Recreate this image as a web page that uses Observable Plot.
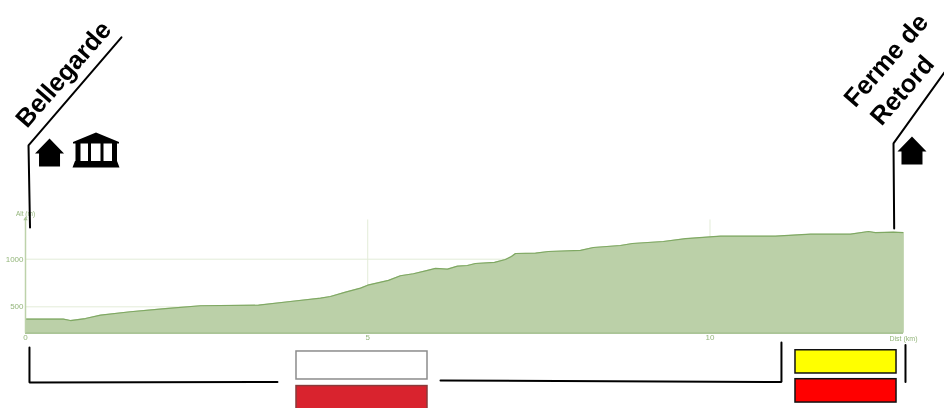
<!DOCTYPE html>
<html>
<head>
<meta charset="utf-8">
<script src="https://cdn.jsdelivr.net/npm/d3@7"></script>
<script src="https://cdn.jsdelivr.net/npm/@observablehq/plot@0.6"></script>
<style>
html,body{margin:0;padding:0;background:#fff;overflow:hidden}
svg{display:block;filter:blur(0.35px)}
svg text{font-family:"Liberation Sans",Arial,sans-serif}
</style>
</head>
<body>
<div id="chart"></div>
<script>
// Elevation profile
const distKm = [0,0.555,0.657,0.877,1.096,1.534,2.045,2.557,3.404,3.871,4.31,4.456,4.675,4.894,5.0,5.303,5.478,5.668,5.873,5.99,6.165,6.311,6.457,6.574,6.852,7.012,7.1,7.159,7.451,7.641,8.108,8.298,8.692,8.868,9.32,9.642,10.153,10.957,11.468,12.053,12.316,12.418,12.681,12.827];
const altM   = [371,371,356,377,412,448,482,511,517,556,591,608,654,696,727,777,826,847,882,903,895,927,934,955,966,997,1029,1060,1063,1081,1092,1123,1144,1165,1186,1215,1242,1242,1263,1263,1291,1278,1284,1278];
const xTicks = [0,5,10];
const yTicks = [500,1000];
const baseAlt = 223, topAlt = 1422, endKm = 12.827;

// Leader and bracket lines, in km / m of the chart
const leaders = [
  {km:[1.402,0.044,0.066],   alt:[3329,2195,1333]},
  {km:[13.426,12.681,12.691],alt:[2961,2216,1323]},
  {km:[0.058,0.058,3.681],   alt:[73,-295,-290]},
  {km:[6.063,11.044,11.044], alt:[-274,-290,125]},
  {km:[12.856,12.856],       alt:[99,-290]}
];

// Route marker bars
const barKm1 = [3.959,3.959,11.249,11.249];
const barKm2 = [5.873,5.873,12.725,12.725];
const barAlt1 = [31,-332,44,-260];
const barAlt2 = [-263,-600,-200,-505];
const barFill = ["#ffffff","#d9232e","#ffff00","#ff0000"];
const barStroke = ["#8c8c8c","#8a3a3a","#111111","#111111"];

// Place names
const placeNames = ["Bellegarde","Ferme de","Retord"];
const placeKm = [0.555,12.574,12.81];
const placeAlt = [2940,3087,2772];

// Icons
const houseKm = [0.351,12.951];
const houseAlt = [2121,2142];
const templeKm = [1.03];
const templeAlt = [2147];

const idx = a => a.map((_, i) => i);
const profile = distKm.map((km, i) => ({km, alt: altM[i]}));

const house = {draw(c, size) {
  const u = Math.sqrt(size / Math.PI) / 14;
  c.moveTo(0, -14*u); c.lineTo(14.5*u, 1*u); c.lineTo(10.5*u, 1*u); c.lineTo(10.5*u, 14*u);
  c.lineTo(-10.5*u, 14*u); c.lineTo(-10.5*u, 1*u); c.lineTo(-14.5*u, 1*u); c.closePath();
}};
const temple = {draw(c, size) {
  const u = Math.sqrt(size / Math.PI) / 24;
  const r = (x,y,w,h) => { c.moveTo(x*u,y*u); c.lineTo((x+w)*u,y*u); c.lineTo((x+w)*u,(y+h)*u); c.lineTo(x*u,(y+h)*u); c.closePath(); };
  c.moveTo(0,-17.5*u); c.lineTo(23*u,-8*u); c.lineTo(23*u,-6.5*u); c.lineTo(-23*u,-6.5*u); c.lineTo(-23*u,-8*u); c.closePath();
  r(-20.5,-6.5,5,17.5); r(-8,-6.5,3,17.5); r(4.5,-6.5,3,17.5); r(16,-6.5,5,17.5);
  c.moveTo(-21*u,11*u); c.lineTo(21*u,11*u); c.lineTo(23.5*u,17.5*u); c.lineTo(-23.5*u,17.5*u); c.closePath();
}};

const axisGreen = "#93b57a";
const chart = Plot.plot({
  width: 944, height: 408, margin: 0,
  style: {background: "#fff"},
  x: {domain: [0, endKm], range: [25, 903]},
  y: {domain: [baseAlt, topAlt], range: [332.7, 218.5]},
  marks: [
    Plot.ruleY(yTicks, {x1: 0, x2: endKm, stroke: "#e3ecd8", strokeWidth: 1}),
    Plot.ruleX(xTicks.slice(1), {y1: baseAlt, y2: topAlt - 10, stroke: "#e3ecd8", strokeWidth: 1}),
    Plot.areaY(profile, {x: "km", y1: baseAlt, y2: "alt", fill: "#bbd0a8", curve: "linear"}),
    Plot.line(profile, {x: "km", y: "alt", stroke: "#7fa863", strokeWidth: 1.2, curve: "linear"}),
    Plot.ruleY([baseAlt], {x1: 0, x2: endKm, stroke: "#8fb276", strokeWidth: 1.2}),
    Plot.ruleX([endKm], {y1: baseAlt, y2: 1278, stroke: "#c6d8b6", strokeWidth: 1}),
    Plot.ruleX([0], {y1: baseAlt, y2: topAlt, stroke: "#bdd2aa", strokeWidth: 1.5}),
    Plot.dot([0], {x: d => d, y: () => topAlt, symbol: "triangle", r: 1.6, fill: "#a9c493"}),
    Plot.axisX(xTicks, {anchor: "bottom", y: baseAlt, tickSize: 0, tickPadding: 1, label: null, fontSize: 8, color: axisGreen}),
    Plot.axisY(yTicks, {anchor: "left", x: 0, tickSize: 0, tickPadding: 2, label: null, fontSize: 8, color: axisGreen, tickFormat: d => String(d)}),
    Plot.text(["Alt (m)"], {x: 0.0, y: 1474, text: d => d, fontSize: 6.5, fill: axisGreen}),
    Plot.text(["Dist (km)"], {x: endKm, y: baseAlt, dy: 5.5, text: d => d, fontSize: 7, fill: axisGreen}),
    ...leaders.map(l => Plot.line(idx(l.km), {x: i => l.km[i], y: i => l.alt[i], stroke: "#000", strokeWidth: 2, strokeLinejoin: "miter", curve: "linear"})),
    Plot.rect(idx(barFill), {x1: i => barKm1[i], x2: i => barKm2[i], y1: i => barAlt1[i], y2: i => barAlt2[i], fill: i => barFill[i], stroke: i => barStroke[i], strokeWidth: 1.5}),
    Plot.dot(idx(houseKm), {x: i => houseKm[i], y: i => houseAlt[i], symbol: house, r: 14, fill: "#000", stroke: "none"}),
    Plot.dot(idx(templeKm), {x: i => templeKm[i], y: i => templeAlt[i], symbol: temple, r: 24, fill: "#000", stroke: "none"}),
    Plot.text(idx(placeNames), {x: i => placeKm[i], y: i => placeAlt[i], text: i => placeNames[i], rotate: -49, fontSize: 25.5, fontWeight: "bold", fontFamily: "Liberation Sans", fill: "#000"})
  ]
});
document.getElementById("chart").append(chart);
</script>
</body>
</html>
